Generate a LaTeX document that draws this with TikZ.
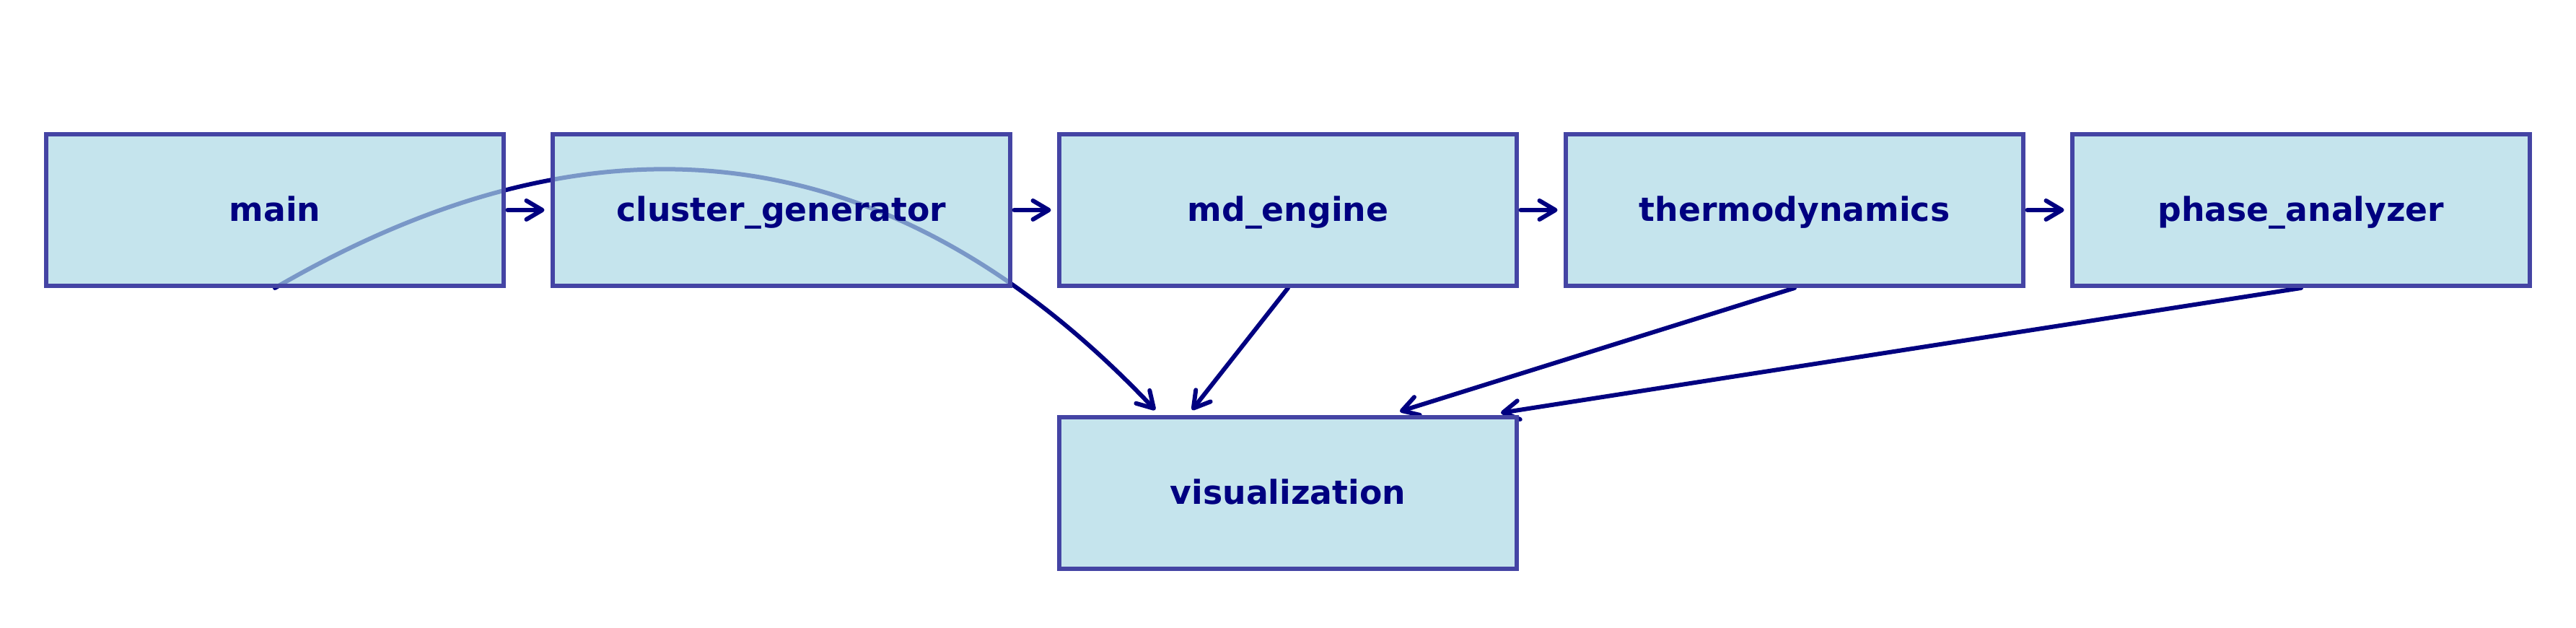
\documentclass[tikz,border=0pt]{standalone}
\usepackage{fontspec}
\setmainfont{DejaVu Sans}
\usetikzlibrary{arrows.meta,calc,backgrounds}
\definecolor{navyc}{RGB}{0,0,128}
\definecolor{boxfill}{RGB}{173,216,230}
\definecolor{boxedge}{RGB}{68,68,164}
\tikzset{
  modbox/.style={draw=boxedge, line width=0.06cm, fill=boxfill, fill opacity=0.7, text opacity=1,
    minimum width=6.34cm, minimum height=2.10cm, inner sep=0pt, text=navyc,
    text height=0.37cm, text depth=0.05cm,
    font=\fontsize{13}{15}\selectfont\bfseries},
  flow/.style={draw=navyc, line width=0.06cm, line cap=round,
    -{Straight Barb[length=0.22cm,width=0.26cm,round]}},
}
\begin{document}
\begin{tikzpicture}
\useasboundingbox (0,0) rectangle (35.7,8.7);
\node[modbox] (main) at (3.81,5.79) {main};
\node[modbox] (cg) at (10.83,5.79) {cluster\_generator};
\node[modbox] (md) at (17.85,5.79) {md\_engine};
\node[modbox] (th) at (24.87,5.79) {thermodynamics};
\node[modbox] (ph) at (31.89,5.79) {phase\_analyzer};
\node[modbox] (viz) at (17.85,1.87) {visualization};
\begin{pgfonlayer}{background}
\draw[flow] (main.south) .. controls +(4.55,2.65) and +(-3.59,3.79) .. ($(viz.north)+(-1.84,0.07)$);
\draw[flow] (md.south) -- ($(viz.north)+(-1.33,0.07)$);
\draw[flow] (th.south) -- ($(viz.north)+(1.55,0.05)$);
\draw[flow] (ph.south) -- ($(viz.north)+(2.95,0.03)$);
\end{pgfonlayer}
\draw[flow, shorten <=0.025cm, shorten >=0.085cm] (main.east) -- (cg.west);
\draw[flow, shorten <=0.025cm, shorten >=0.085cm] (cg.east) -- (md.west);
\draw[flow, shorten <=0.025cm, shorten >=0.085cm] (md.east) -- (th.west);
\draw[flow, shorten <=0.025cm, shorten >=0.085cm] (th.east) -- (ph.west);
\end{tikzpicture}
\end{document}
